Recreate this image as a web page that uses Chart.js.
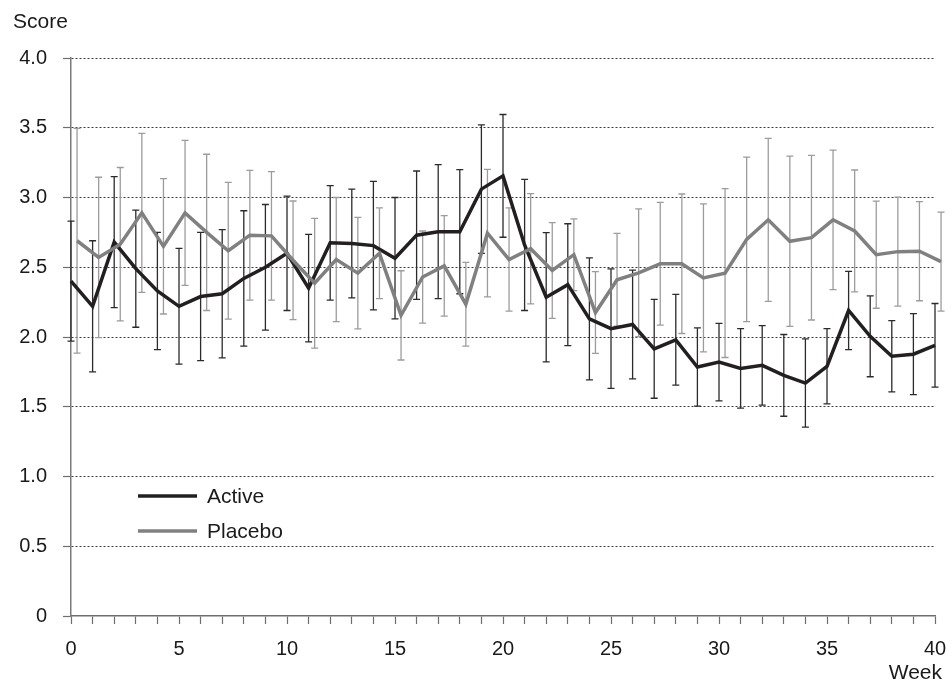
<!DOCTYPE html>
<html>
<head>
<meta charset="utf-8">
<script src="https://cdn.jsdelivr.net/npm/chart.js@4.4.1/dist/chart.umd.min.js"></script>
<style>
  html, body { margin: 0; padding: 0; background: #ffffff; }
  #wrap { width: 952px; height: 683px; }
</style>
</head>
<body>
<div id="wrap"><canvas id="chart" width="952" height="683"></canvas></div>
<script>
// Weekly mean score with error bars, Active vs Placebo
const weeks = [0,1,2,3,4,5,6,7,8,9,10,11,12,13,14,15,16,17,18,19,20,
               21,22,23,24,25,26,27,28,29,30,31,32,33,34,35,36,37,38,39,40];

const activeMean = [2.40,2.22,2.68,2.49,2.33,2.22,2.29,2.31,2.42,2.50,2.60,
                    2.35,2.675,2.67,2.655,2.565,2.73,2.755,2.755,3.06,3.155,
                    2.66,2.285,2.375,2.13,2.06,2.09,1.915,1.98,1.785,1.82,
                    1.775,1.797,1.725,1.67,1.79,2.19,2.005,1.862,1.877,1.94];
const activeErr  = [0.43,0.47,0.47,0.42,0.42,0.415,0.46,0.46,0.485,0.45,0.41,
                    0.385,0.41,0.39,0.46,0.435,0.46,0.48,0.445,0.46,0.44,
                    0.47,0.463,0.437,0.437,0.428,0.39,0.354,0.325,0.28,0.278,
                    0.285,0.285,0.293,0.316,0.27,0.28,0.29,0.255,0.29,0.30];

const placeboMean = [2.69,2.57,2.665,2.89,2.65,2.89,2.75,2.618,2.73,2.725,2.55,
                     2.385,2.555,2.458,2.60,2.155,2.43,2.51,2.235,2.744,2.555,
                     2.633,2.477,2.59,2.175,2.41,2.46,2.525,2.525,2.424,2.458,
                     2.70,2.84,2.686,2.712,2.84,2.76,2.59,2.612,2.615,2.54];
const placeboErr  = [0.805,0.575,0.55,0.57,0.485,0.52,0.56,0.49,0.465,0.46,0.425,
                     0.465,0.445,0.40,0.325,0.32,0.33,0.36,0.30,0.457,0.37,
                     0.395,0.343,0.257,0.293,0.333,0.458,0.44,0.50,0.53,0.605,
                     0.59,0.584,0.61,0.59,0.50,0.437,0.384,0.39,0.355,0.355];

const yTickValues = [0,0.5,1.0,1.5,2.0,2.5,3.0,3.5,4.0];
const xLabelEvery = 5;
const seriesNames = ['Active', 'Placebo'];

// Placebo markers are nudged right so the two sets of bars stay readable
const placeboShift = 0.28;

const FONT = '"Liberation Sans", Arial, Helvetica, sans-serif';
const ACTIVE_COLOR = '#231f20';
const PLACEBO_COLOR = '#808080';

const toPoints = (means, shift) => weeks.map((w, i) => ({ x: w + shift, y: means[i] }));

// Vertical error bars with caps, drawn behind the lines
const errorBars = {
  id: 'errorBars',
  beforeDatasetsDraw(chart) {
    const { ctx } = chart;
    const yScale = chart.scales.y;
    chart.data.datasets.forEach((ds, di) => {
      const meta = chart.getDatasetMeta(di);
      const errs = ds.errors;
      ctx.save();
      ctx.strokeStyle = ds.barColor;
      ctx.lineWidth = 1.3;
      meta.data.forEach((pt, i) => {
        const v = ds.data[i].y;
        const x = pt.x;
        const yt = yScale.getPixelForValue(v + errs[i]);
        const yb = yScale.getPixelForValue(v - errs[i]);
        ctx.beginPath();
        ctx.moveTo(x, yt); ctx.lineTo(x, yb);
        ctx.moveTo(x - 3.5, yt); ctx.lineTo(x + 3.5, yt);
        ctx.moveTo(x - 3.5, yb); ctx.lineTo(x + 3.5, yb);
        ctx.stroke();
      });
      ctx.restore();
    });
  }
};

// Axis titles and the in-plot legend
const annotations = {
  id: 'annotations',
  afterDraw(chart) {
    const { ctx } = chart;
    ctx.save();
    ctx.fillStyle = '#1a1a1a';
    ctx.font = '21px ' + FONT;
    ctx.textBaseline = 'middle';
    ctx.textAlign = 'left';
    ctx.fillText('Score', 13, 22);
    ctx.textAlign = 'right';
    ctx.fillText('Week', 942, 673);

    const legendColors = [ACTIVE_COLOR, PLACEBO_COLOR];
    ctx.textAlign = 'left';
    ctx.font = '21px ' + FONT;
    seriesNames.forEach((name, i) => {
      const y = 496 + i * 35;
      ctx.strokeStyle = legendColors[i];
      ctx.lineWidth = 3.5;
      ctx.beginPath();
      ctx.moveTo(138, y); ctx.lineTo(197, y);
      ctx.stroke();
      ctx.fillStyle = '#1a1a1a';
      ctx.fillText(name, 207, y + 1);
    });
    ctx.restore();
  }
};

new Chart(document.getElementById('chart'), {
  type: 'line',
  data: {
    datasets: [
      {
        label: seriesNames[0],
        data: toPoints(activeMean, 0),
        errors: activeErr,
        barColor: '#2b2b2b',
        borderColor: ACTIVE_COLOR,
        borderWidth: 3.5,
        pointRadius: 0,
        tension: 0,
        clip: false,
        order: 2
      },
      {
        label: seriesNames[1],
        data: toPoints(placeboMean, placeboShift),
        errors: placeboErr,
        barColor: '#9c9c9c',
        borderColor: PLACEBO_COLOR,
        borderWidth: 3.5,
        pointRadius: 0,
        tension: 0,
        clip: false,
        order: 1
      }
    ]
  },
  options: {
    responsive: false,
    devicePixelRatio: 1,
    animation: false,
    layout: { padding: { top: 58, right: 17, bottom: 0, left: 0 } },
    plugins: { legend: { display: false }, tooltip: { enabled: false } },
    scales: {
      x: {
        type: 'linear',
        min: 0,
        max: 40,
        afterFit(scale) {
          scale.height = 67;
          scale.paddingLeft = 0;
          scale.paddingRight = 0;
        },
        afterBuildTicks(scale) { scale.ticks = weeks.map(v => ({ value: v })); },
        ticks: {
          autoSkip: false,
          maxRotation: 0,
          minRotation: 0,
          padding: 13,
          color: '#1a1a1a',
          font: { family: FONT, size: 20 },
          callback: v => (v % xLabelEvery === 0 ? String(v) : '')
        },
        grid: {
          drawOnChartArea: false,
          drawTicks: true,
          tickLength: 8,
          tickColor: '#6e6e6e',
          tickWidth: 1.2
        },
        border: { display: true, color: '#6e6e6e', width: 1.5 }
      },
      y: {
        min: 0,
        max: 4,
        afterFit(scale) {
          scale.width = 71;
          scale.paddingTop = 0;
          scale.paddingBottom = 0;
        },
        afterBuildTicks(scale) { scale.ticks = yTickValues.map(v => ({ value: v })); },
        ticks: {
          padding: 16,
          color: '#1a1a1a',
          font: { family: FONT, size: 20 },
          callback: v => (v === 0 ? '0' : v.toFixed(1))
        },
        grid: {
          drawOnChartArea: true,
          drawTicks: true,
          tickLength: 8,
          tickColor: '#6e6e6e',
          tickWidth: 1.2,
          tickBorderDash: [],
          lineWidth: 1,
          color: ctx => (ctx.tick && ctx.tick.value === 0 ? 'rgba(0,0,0,0)' : '#3a3a3a')
        },
        border: { display: true, color: '#7a7a7a', width: 1.5, dash: [2, 2] }
      }
    }
  },
  plugins: [errorBars, annotations]
});
</script>
</body>
</html>
